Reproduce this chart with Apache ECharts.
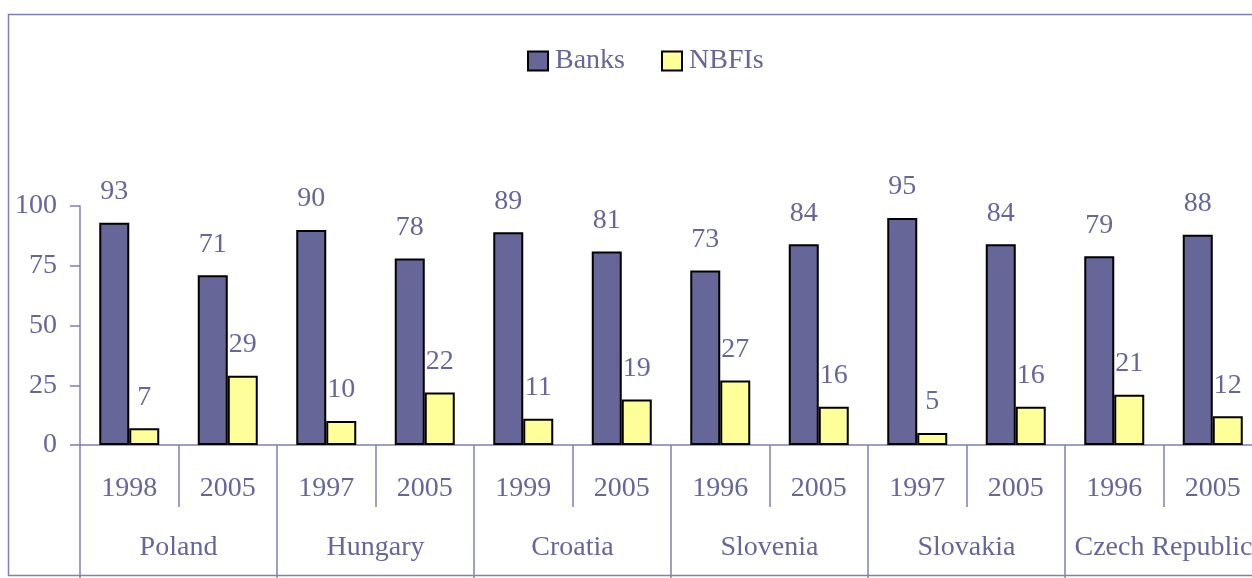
<!DOCTYPE html>
<html>
<head>
<meta charset="utf-8">
<script src="https://cdn.jsdelivr.net/npm/echarts@6/dist/echarts.min.js"></script>
<style>
html, body { margin: 0; padding: 0; background: #fff; }
#chart { width: 1252px; height: 578px; }
</style>
</head>
<body>
<div id="chart"></div>
<script>
var years = ['1998', '2005', '1997', '2005', '1999', '2005', '1996', '2005', '1997', '2005', '1996', '2005'];
var countries = ['Poland', 'Hungary', 'Croatia', 'Slovenia', 'Slovakia', 'Czech Republic'];
var banks = [93, 71, 90, 78, 89, 81, 73, 84, 95, 84, 79, 88];
var nbfis = [7, 29, 10, 22, 11, 19, 27, 16, 5, 16, 21, 12];

var txt = '#666699';
var line = '#8080b3';
var font = 'Liberation Serif';

var chart = echarts.init(document.getElementById('chart'));

// series label style, same for both
var lbl = {
	show : true,
	position : 'top',
	distance : 17,
	color : txt,
	fontFamily : font,
	fontSize : 28
};

chart.setOption({
	animation : false,
	textStyle : { fontFamily : font },
	graphic : [{
		type : 'rect',
		left : 6,
		top : 12,
		shape : { width : 1300, height : 561 },
		style : { fill : 'none', stroke : line, lineWidth : 1.5 },
		z : -1
	}],
	legend : {
		left : 522,
		top : 42,
		icon : 'rect',
		itemWidth : 20,
		itemHeight : 19,
		itemGap : 36,
		textStyle : { color : txt, fontSize : 28, fontFamily : font, padding : [0, 0, 0, 2] },
		data : ['Banks', 'NBFIs']
	},
	grid : {
		left : 80,
		right : -10,
		top : 206,
		bottom : 133,
		outerBoundsMode : 'none'
	},
	xAxis : [{
		type : 'category',
		position : 'bottom',
		data : years,
		axisLine : { show : true, lineStyle : { color : line, width : 1.5 } },
		axisTick : { show : true, interval : 0, length : 62, lineStyle : { color : line, width : 1.5 } },
		axisLabel : { interval : 0, margin : 30, color : txt, fontSize : 28, fontFamily : font }
	}, {
		type : 'category',
		position : 'bottom',
		data : countries,
		axisLine : { show : false },
		axisTick : { show : true, interval : 0, length : 140, lineStyle : { color : line, width : 1.5 } },
		axisLabel : { interval : 0, margin : 89, color : txt, fontSize : 28, fontFamily : font }
	}],
	yAxis : {
		type : 'value',
		min : 0,
		max : 100,
		interval : 25,
		splitLine : { show : false },
		axisLine : { show : true, lineStyle : { color : line, width : 1.5 } },
		axisTick : { show : true, length : 10, lineStyle : { color : line, width : 1.5 } },
		axisLabel : { margin : 23, color : txt, fontSize : 28, fontFamily : font }
	},
	series : [{
		name : 'Banks',
		type : 'bar',
		xAxisIndex : 0,
		data : banks,
		barWidth : 30,
		barGap : '0%',
		itemStyle : { color : '#666699', borderColor : '#000', borderWidth : 2 },
		label : lbl
	}, {
		name : 'NBFIs',
		type : 'bar',
		xAxisIndex : 0,
		data : nbfis,
		barWidth : 30,
		barGap : '0%',
		itemStyle : { color : '#ffff99', borderColor : '#000', borderWidth : 2 },
		label : lbl
	}]
});
</script>
</body>
</html>
